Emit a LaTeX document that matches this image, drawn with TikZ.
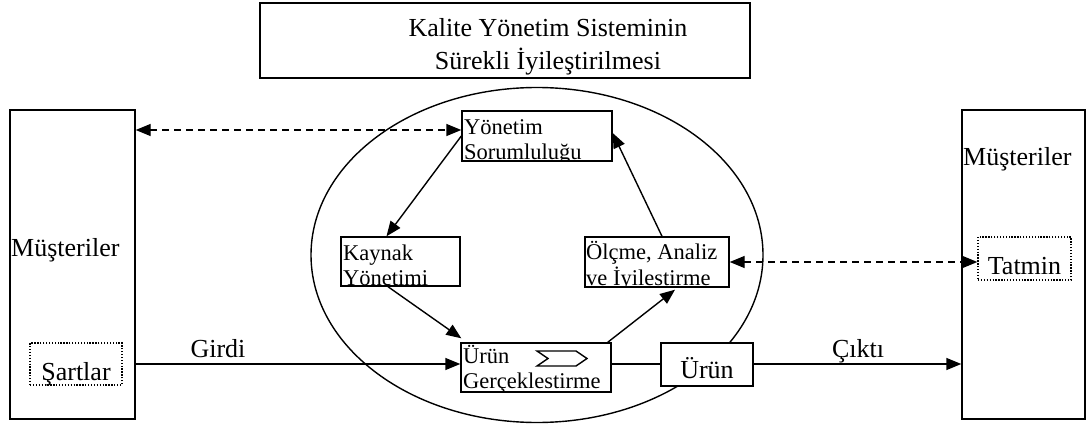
\documentclass[tikz,border=0pt]{standalone}
\usepackage{fontspec}
\setmainfont{Liberation Serif}
\usetikzlibrary{arrows.meta,shapes.geometric}
\begin{document}
\begin{tikzpicture}[x=1pt,y=-1pt,
  bx/.style={draw, fill=white, line width=1.4pt, inner sep=0pt, rectangle},
  dotbox/.style={draw, fill=white, line width=1.3pt, dash pattern=on 1.3pt off 1.6pt, inner sep=0pt, rectangle},
  big/.style={font=\fontsize{26}{31}\selectfont, inner sep=0pt, anchor=base},
  bigw/.style={font=\fontsize{26}{31}\selectfont, inner sep=0pt, anchor=base west},
  small/.style={font=\fontsize{22.5}{25}\selectfont, inner sep=0pt, anchor=base west},
  arr/.style={line width=1.4pt, -{Triangle[length=15pt,width=12pt]}},
  darr/.style={line width=1.4pt, dash pattern=on 7pt off 5pt,
    {Triangle[length=15pt,width=12pt]}-{Triangle[length=15pt,width=12pt]}},
  ln/.style={line width=1.4pt}
]
\useasboundingbox (0,0) rectangle (1087,425);

% ellipse
\node[draw, ellipse, line width=1.4pt, minimum width=452pt, minimum height=335pt, inner sep=0pt] (E) at (537,255) {};

% title
\node[bx, minimum width=490pt, minimum height=75pt] (T) at (505,40.5) {};
\node[big] (T1) at (548,37) {Kalite Yönetim Sisteminin};
\node[big] (T2) at (548,70) {Sürekli İyileştirilmesi};

% customer boxes
\node[bx, minimum width=125pt, minimum height=309pt] (L) at (72.5,264.5) {};
\node[bx, minimum width=123pt, minimum height=309pt] (R) at (1023.5,264.5) {};
\node[bigw] (Lt) at (11,256) {Müşteriler};
\node[bigw] (Rt) at (963,165) {Müşteriler};
\node[dotbox, minimum width=92pt, minimum height=42pt] (sa) at (76,364) {};
\node[big] (sat) at (76,380) {Şartlar};
\node[dotbox, minimum width=93pt, minimum height=43pt] (ta) at (1024.5,258.5) {};
\node[big] (tat) at (1024.5,274) {Tatmin};

% process boxes
\node[bx, minimum width=150pt, minimum height=50pt] (ys) at (537,136) {};
\node[bx, minimum width=119pt, minimum height=49pt] (ky) at (400.5,261.5) {};
\node[bx, minimum width=144pt, minimum height=50pt] (ol) at (657,262) {};
\node[bx, minimum width=150pt, minimum height=49pt] (ug) at (536,367.5) {};
\node[bx, minimum width=92pt, minimum height=43pt] (ur) at (707,364.5) {};
\node[big] (urt) at (707,378) {Ürün};

\begin{scope}
  \clip (ys.south west) rectangle (ys.north east);
  \node[small] (ys1) at (464,135) {Yönetim};
  \node[small] (ys2) at (464,160) {Sorumluluğu};
\end{scope}
\begin{scope}
  \clip (ky.south west) rectangle (ky.north east);
  \node[small] (ky1) at (343,260) {Kaynak};
  \node[small] (ky2) at (343,285) {Yönetimi};
\end{scope}
\begin{scope}
  \clip (ol.south west) rectangle (ol.north east);
  \node[small] (ol1) at (586,259) {Ölçme, Analiz};
  \node[small] (ol2) at (586,285) {ve İyilestirme};
\end{scope}
\begin{scope}
  \clip (ug.south west) rectangle (ug.north east);
  \node[small] (ug1) at (463,363) {Ürün};
  \node[small] (ug2) at (463,388) {Gerçeklestirme};
\end{scope}

% chevron inside Ürün Gerçeklestirme
\draw[ln, line join=miter] (537,351) -- (576,351) -- (587,358.5) -- (576,366) -- (537,366) -- (548,358.5) -- cycle;

% connectors
\coordinate (dl) at (300,130);
\draw[darr] (L.east |- dl) -- (ys.west |- dl);
\draw[darr] (ol.east) -- (ol.east -| ta.west);

\draw[arr] (ys.west) -- ([xshift=-14pt]ky.north);
\draw[arr] ([xshift=5pt]ol.north) -- ([yshift=3pt]ys.east);
\draw[arr] ([xshift=-12.5pt]ky.south) -- ([xshift=1pt,yshift=4pt]ug.north west);
\draw[arr] ([xshift=-4pt]ug.north east) -- ([xshift=18pt,yshift=-2pt]ol.south);

\draw[arr] (L.east |- sa) -- (ug.west |- sa);
\draw[ln] (ug.east |- sa) -- (ur.west |- sa);
\draw[arr] (ur.east |- sa) -- (R.west |- sa);

\node[big] (gi) at (218,357) {Girdi};
\node[big] (ci) at (858,357) {Çıktı};
\end{tikzpicture}
\end{document}
